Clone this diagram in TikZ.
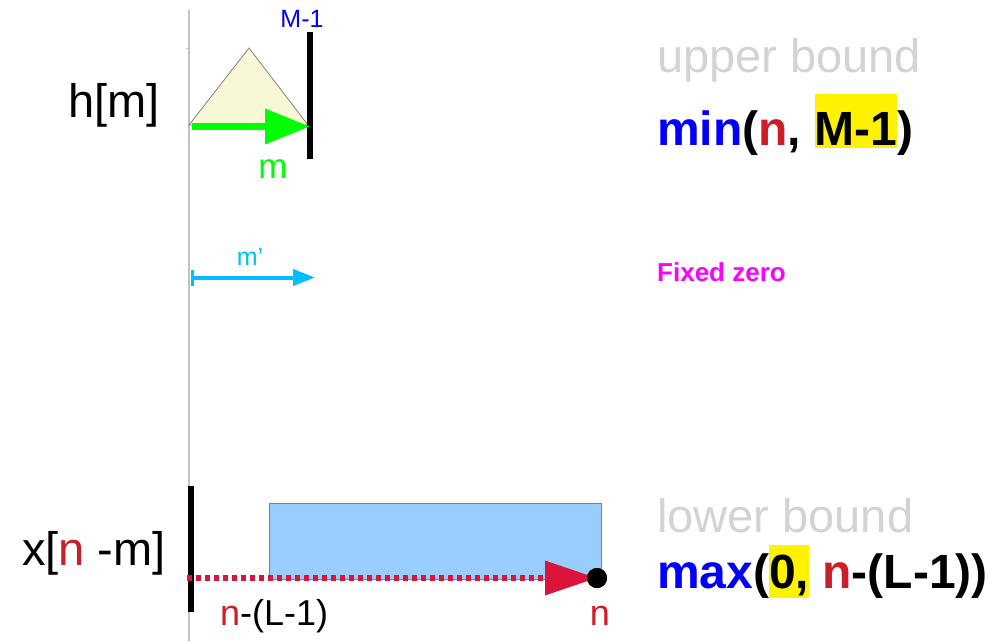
\documentclass[tikz,border=0pt]{standalone}
\usepackage{fontspec}
\setmainfont{Liberation Sans}
\usepackage{xcolor}
\usetikzlibrary{arrows.meta}
\definecolor{nred}{RGB}{204,30,38}
\definecolor{tipred}{RGB}{220,20,60}
\definecolor{skyarrow}{RGB}{0,191,255}
\definecolor{boundgray}{RGB}{211,211,211}
\definecolor{trifill}{RGB}{248,248,214}
\definecolor{winfill}{RGB}{153,204,255}
\definecolor{zeropink}{RGB}{255,0,255}
\tikzset{
    label text/.style = {inner sep=0, anchor=base west},
    big/.style = {label text, font=\fontsize{47}{56}\selectfont},
    bigbold/.style = {label text, font=\fontsize{48}{57}\selectfont\bfseries},
    mid/.style = {inner sep=0, anchor=base, font=\fontsize{36}{43}\selectfont},
    small/.style = {inner sep=0, anchor=base, font=\fontsize{25}{30}\selectfont},
    bar/.style = {draw, line width=6pt},
}
\newcommand{\nr}{\textcolor{nred}{n}}
\setlength{\fboxsep}{0pt}

\begin{document}
\begin{tikzpicture}[x=1pt, y=-1pt]
                \useasboundingbox (0,0) rectangle (1006,641);

                % axis
                \coordinate (axtop) at (189,10);
                \coordinate (axbot) at (189,641);
                \draw [boundgray!80!gray, line width=1.5pt] (axtop) -- (axbot);
                \draw [boundgray!80!gray, line width=1pt] (186,48) -- (axtop |- 0,48);

                % filter h[m]
                \coordinate (t1) at (189,125);
                \coordinate (t2) at (249,48);
                \coordinate (t3) at (308,125);
                \filldraw [fill=trifill, draw=gray, line width=0.8pt] (t1) -- (t2) -- (t3) -- cycle;
                \coordinate (mtop) at (310,32);
                \coordinate (mbot) at (310,159);
                \draw [bar] (mtop) -- (mbot);
                \coordinate (hstart) at (192,126.5);
                \draw [green, line width=7pt, -{Triangle[length=45pt, width=34pt]}] (hstart) -- (mtop |- hstart);

                \node [big] (hm) at (68,117) {h[m]};
                \node [small, text=blue] (mlast) at (302,27) {M-1};
                \node [mid, text=green, font=\fontsize{35}{42}\selectfont] (m) at (273,178) {m};

                % shifted index
                \coordinate (pstart) at (191,277.5);
                \coordinate (pend) at (315,277.5);
                \draw [skyarrow, line width=4pt, {Bar[width=16pt, line width=3pt]}-{Triangle[length=22pt, width=16pt]}] (pstart) -- (pend);
                \node [small, text=skyarrow] (mp) at (250,265) {m'};

                % input x[n-m]
                \node [draw=gray, fill=winfill, line width=0.8pt, inner sep=0, minimum width=332pt, minimum height=76pt, anchor=north west] (win) at (269,503) {};
                \coordinate (xtop) at (191,486);
                \coordinate (xbot) at (191,612);
                \draw [bar] (xtop) -- (xbot);
                \node [circle, fill=black, inner sep=0, minimum size=20pt] (n) at (597,578) {};
                \coordinate (xstart) at (187,578);
                \draw [tipred, line width=6.5pt, dash pattern=on 5pt off 4pt, -{Triangle[length=52pt, width=33pt]}] (xstart) -- (n.center);
                \node [circle, fill=black, inner sep=0, minimum size=20pt] at (n) {};

                \node [big] (xnm) at (22,565) {x[\nr{} -m]};
                \node [mid, anchor=base west] (nL) at (220,625) {\nr-(L-1)};
                \node [mid, text=nred] (nlab) at (600,625) {n};

                % bounds
                \node [big, text=boundgray] (upper) at (657,72) {upper bound};
                \node [bigbold] (minexpr) at (657,145)
                    {\textcolor{blue}{min}(\nr, \colorbox{yellow}{\rule[-3pt]{0pt}{54pt}M-1})};
                \node [label text, text=zeropink, font=\fontsize{26}{31}\selectfont\bfseries] (fixed) at (657,281) {Fixed zero};
                \node [big, text=boundgray] (lower) at (657,532) {lower bound};
                \node [bigbold] (maxexpr) at (657,588)
                    {\textcolor{blue}{max}(\colorbox{yellow}{\rule[-10pt]{0pt}{53pt}0,} \nr-(L-1))};
            \end{tikzpicture}
\end{document}
